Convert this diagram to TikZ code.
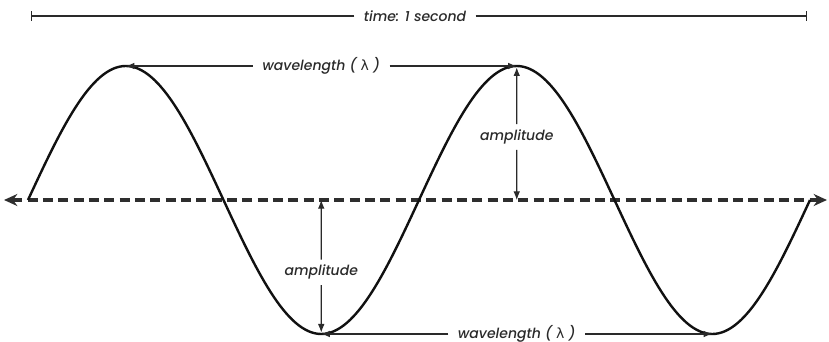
\documentclass[tikz,border=0pt]{standalone}
\usepackage{fontspec}
\setmainfont{Poppins}
\IfFontExistsTF{Poppins Medium Italic}
  {\newfontfamily\lblfont{Poppins Medium Italic}}
  {\newfontfamily\lblfont{Poppins}[UprightFont=*-Italic]}
\newfontfamily\grkfont{DejaVu Sans}
\usepackage{xcolor}
\definecolor{cWave}{HTML}{111111}
\definecolor{cAxis}{HTML}{2E2E2E}
\definecolor{cDim}{HTML}{2A2A2A}
\usetikzlibrary{arrows.meta,calc}
\tikzset{
  wave-line/.style={draw=cWave,line width=1.8pt},
  axis-line/.style={draw=cAxis,line width=2.4pt,dash pattern=on 7.5pt off 4pt,
    {Stealth[length=10pt,width=9pt]}-{Stealth[length=10pt,width=9pt]}},
  dim-label/.style={font=\lblfont\fontsize{10.5}{12}\selectfont,text=cDim,
    inner xsep=7pt,inner ysep=4pt},
  dim-arrow/.style={draw=cDim,line width=0.8pt,-{Latex[length=6.5pt,width=5pt]}},
  dim-bar/.style={draw=cDim,line width=0.8pt,-{Bar[width=7pt]}},
}

\begin{document}
\begin{tikzpicture}[x=0.75pt,y=-0.75pt]
  \useasboundingbox (0,0) rectangle (829,342);
  % key points of the wave
  \coordinate (z0) at (28,200);
  \coordinate (pk1) at (125.75,66);
  \coordinate (z1) at (223.5,200);
  \coordinate (tr1) at (321.25,334);
  \coordinate (z2) at (419,200);
  \coordinate (pk2) at (516.75,66);
  \coordinate (z3) at (614.5,200);
  \coordinate (tr2) at (712.25,334);
  \coordinate (z4) at (810,200);
  \coordinate (ax-l) at (4,200);
  \coordinate (ax-r) at (827,200);
  \coordinate (tm-l) at (31,16);
  \coordinate (tm-r) at (807,16);

  \draw[axis-line] (ax-l) -- (ax-r);
  \draw[wave-line] (z0) sin (pk1) cos (z1) sin (tr1) cos (z2) sin (pk2) cos (z3) sin (tr2) cos (z4);

  % time span
  \node[dim-label] (time) at (415,16) {time: 1 second};
  \draw[dim-bar] (time) -- (tm-l);
  \draw[dim-bar] (time) -- (tm-r);

  % wavelength
  \node[dim-label] (wl-top) at ($(pk1)!0.5!(pk2)$) {wavelength ( {\grkfont λ} )};
  \draw[dim-arrow] (wl-top) -- (pk1);
  \draw[dim-arrow] (wl-top) -- (pk2);
  \node[dim-label] (wl-bot) at ($(tr1)!0.5!(tr2)$) {wavelength ( {\grkfont λ} )};
  \draw[dim-arrow] (wl-bot) -- (tr1);
  \draw[dim-arrow] (wl-bot) -- (tr2);

  % amplitude
  \coordinate (amp-top-base) at (pk2 |- z0);
  \coordinate (amp-bot-base) at (tr1 |- z0);
  \node[dim-label,inner xsep=1pt] (amp-top) at ($(pk2)!0.53!(amp-top-base)$) {amplitude};
  \draw[dim-arrow,shorten >=1pt] (amp-top) -- (pk2);
  \draw[dim-arrow] (amp-top) -- (amp-top-base);
  \node[dim-label,inner xsep=1pt] (amp-bot) at ($(amp-bot-base)!0.54!(tr1)$) {amplitude};
  \draw[dim-arrow] (amp-bot) -- (amp-bot-base);
  \draw[dim-arrow,shorten >=1pt] (amp-bot) -- (tr1);
\end{tikzpicture}
\end{document}
